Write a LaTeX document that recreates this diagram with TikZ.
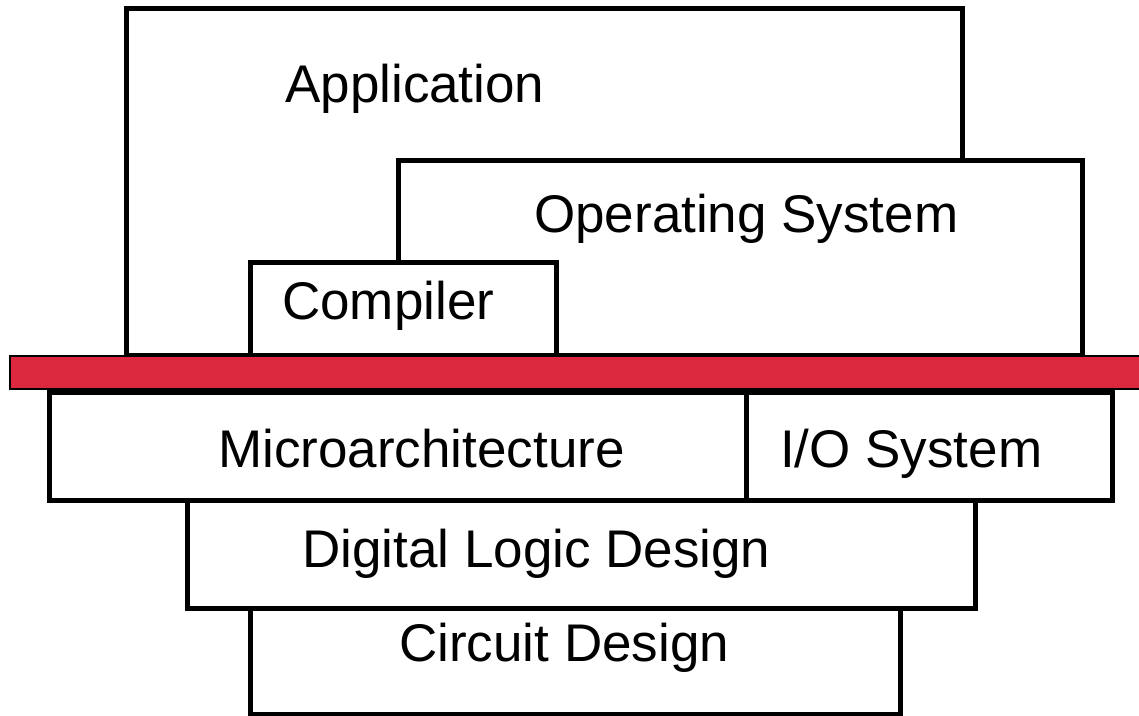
\documentclass[tikz,border=0pt]{standalone}
\usepackage{fontspec}
\setmainfont{Liberation Sans}
\definecolor{barred}{RGB}{220,40,62}
\begin{document}
\begin{tikzpicture}[x=1pt,y=-1pt,
  layer/.style={draw=black, fill=white, line width=5pt, rectangle, inner sep=0pt, outer sep=0pt, anchor=north west},
  lbl/.style={anchor=base west, inner sep=0pt, font=\fontsize{53}{60}\selectfont}]
\useasboundingbox (0,0) rectangle (1139,715);
% upper stack
\node[layer, minimum width=836pt, minimum height=347pt] (app) at (126,8) {};
\node[layer, minimum width=684pt, minimum height=195pt] (os) at (398,160) {};
\node[layer, minimum width=306pt, minimum height=93pt] (comp) at (250,262) {};
% lower stack
\node[layer, minimum width=650pt, minimum height=106pt] (circ) at (250,608) {};
\node[layer, minimum width=788pt, minimum height=108pt] (dig) at (187,500) {};
\node[layer, minimum width=697pt, minimum height=108pt] (micro) at (49,392) {};
\node[layer, minimum width=366pt, minimum height=108pt] (io) at (746,392) {};
% interface bar
\node[draw=black, fill=barred, line width=1.5pt, rectangle, inner sep=0pt, outer sep=0pt, anchor=north west,
      minimum width=1140pt, minimum height=33pt] (bar) at (10,356) {};
% labels
\node[lbl] (tapp) at (285,102) {Application};
\node[lbl] (tos) at (534,232) {Operating System};
\node[lbl] (tcomp) at (282,319) {Compiler};
\node[lbl] (tmicro) at (218,467) {Microarchitecture};
\node[lbl] (tio) at (780,467) {I/O System};
\node[lbl] (tdig) at (302,567) {Digital Logic Design};
\node[lbl] (tcirc) at (399,661) {Circuit Design};
\end{tikzpicture}
\end{document}
